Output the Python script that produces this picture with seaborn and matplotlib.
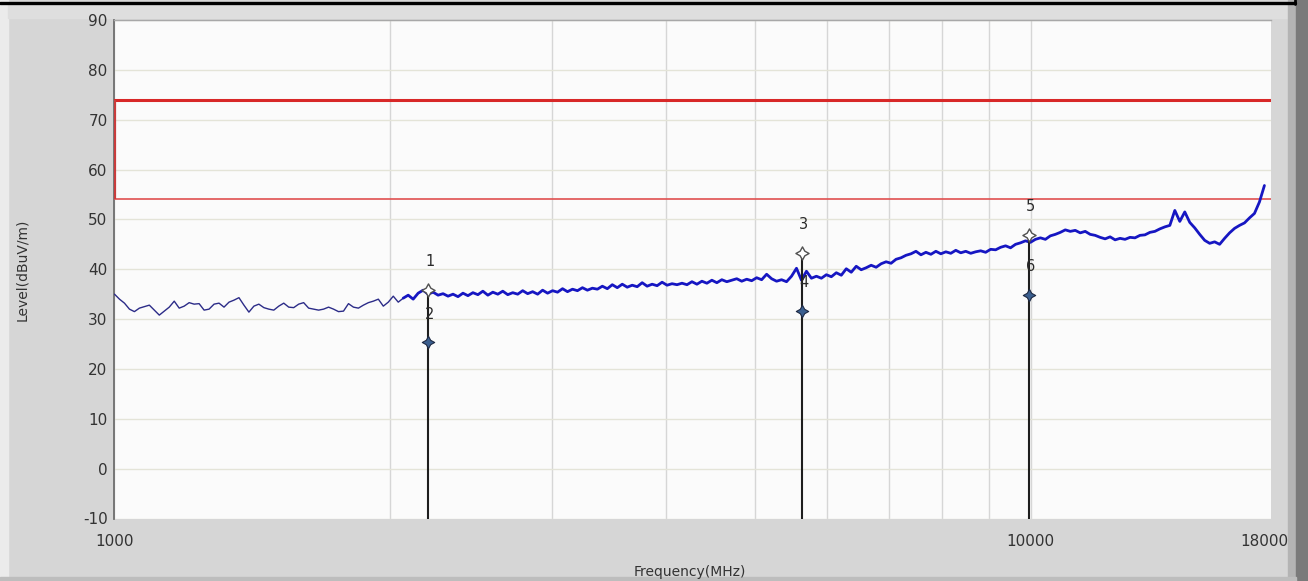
import numpy as np
import pandas as pd
import seaborn as sns
import matplotlib.pyplot as plt
from matplotlib.patches import Rectangle
from matplotlib.lines import Line2D

sns.set_theme(style="white")
plt.rcParams['font.family'] = ['DejaVu Sans']
plt.rcParams['axes.unicode_minus'] = False

# --- measured trace (dBuV/m), sweep 1000 -> 18000 MHz on a log grid ---
level_low = [
    35.0, 34.0, 33.2, 32.0, 31.5, 32.2, 32.5, 32.8, 31.8, 30.8,
    31.6, 32.4, 33.6, 32.2, 32.6, 33.3, 33.0, 33.1, 31.8, 32.0,
    33.0, 33.2, 32.4, 33.4, 33.8, 34.3, 32.8, 31.4, 32.6, 33.0,
    32.3, 32.0, 31.8, 32.6, 33.2, 32.4, 32.3, 33.0, 33.3, 32.2,
    32.0, 31.8, 32.0, 32.4, 32.0, 31.5, 31.6, 33.1, 32.4, 32.2,
    32.8, 33.3, 33.6, 34.0, 32.6, 33.4, 34.6, 33.4,
]
level_high = [
    34.2, 34.8, 34.0, 35.2, 35.8, 35.0, 35.4, 34.8, 35.1, 34.6,
    35.0, 34.5, 35.2, 34.7, 35.3, 34.9, 35.6, 34.8, 35.4, 35.0,
    35.6, 34.9, 35.3, 35.0, 35.7, 35.1, 35.5, 35.0, 35.8, 35.2,
    35.7, 35.4, 36.1, 35.5, 36.0, 35.7, 36.3, 35.8, 36.2, 36.0,
    36.6, 36.1, 36.9, 36.3, 37.0, 36.4, 36.8, 36.5, 37.3, 36.6,
    37.0, 36.7, 37.4, 36.8, 37.1, 36.9, 37.2, 36.9, 37.5, 37.0,
    37.6, 37.2, 37.8, 37.3, 37.9, 37.5, 37.8, 38.1, 37.6, 38.0,
    37.7, 38.3, 37.9, 39.0, 38.1, 37.6, 37.9, 37.5, 38.6, 40.2,
    37.8, 39.6, 38.2, 38.6, 38.2, 38.9, 38.5, 39.3, 38.8, 40.1,
    39.4, 40.6, 39.9, 40.3, 40.8, 40.4, 41.1, 41.5, 41.2, 42.0,
    42.3, 42.8, 43.1, 43.6, 42.9, 43.4, 43.0, 43.6, 43.1, 43.5,
    43.2, 43.8, 43.3, 43.6, 43.2, 43.5, 43.7, 43.4, 44.0, 43.9,
    44.4, 44.7, 44.3, 45.0, 45.3, 45.7, 45.4, 46.0, 46.3, 46.0,
    46.7, 47.0, 47.4, 47.9, 47.6, 47.8, 47.3, 47.6, 47.0, 46.8,
    46.4, 46.1, 46.5, 45.9, 46.2, 46.0, 46.4, 46.3, 46.8, 46.9,
    47.4, 47.6, 48.1, 48.5, 48.8, 51.8, 49.6, 51.5, 49.4, 48.3,
    47.0, 45.8, 45.2, 45.5, 45.0, 46.2, 47.3, 48.2, 48.8, 49.3,
    50.3, 51.2, 53.5, 56.8,
]
trace_level = level_low + level_high
trace_freq = np.geomspace(1000, 18000, len(trace_level))

# --- limit lines ---
limit_freq = [1000, 18300]
peak_limit = [74, 74]
avg_limit = [54, 54]

# --- markers ---
marker_id = ["1", "2", "3", "4", "5", "6"]
marker_freq = [2200, 2200, 5630, 5630, 9950, 9950]
marker_level = [35.9, 25.4, 43.3, 31.7, 46.9, 34.9]
marker_kind = ["PK", "AV", "PK", "AV", "PK", "AV"]

# --- axes ticks ---
x_range = (1000, 18300)
x_major = [1000, 10000, 18000]
x_major_labels = ["1000", "10000", "18000"]
x_minor = [2000, 3000, 4000, 5000, 6000, 7000, 8000, 9000]
y_ticks = list(range(-10, 91, 10))

W, H = 1308, 581
fig = plt.figure(figsize=(W / 100, H / 100), dpi=100)
fig.patch.set_facecolor("#d6d6d6")

# window frame decorations
fig.add_artist(Rectangle((0, 0), 8 / W, 1, transform=fig.transFigure,
                         color="#ebebeb", zorder=0))
fig.add_artist(Rectangle((8 / W, 1 - 18 / H), 1280 / W, 13 / H,
                         transform=fig.transFigure, color="#dedede", zorder=0))
fig.add_artist(Rectangle((1288 / W, 0), 8 / W, 1, transform=fig.transFigure,
                         color="#b4b4b4", zorder=0))
fig.add_artist(Rectangle((1296 / W, 0), 12 / W, 1, transform=fig.transFigure,
                         color="#7a7a7a", zorder=0))
fig.add_artist(Rectangle((0, 0), 1296 / W, 4 / H, transform=fig.transFigure,
                         color="#bdbdbd", zorder=0))
fig.add_artist(Line2D([0, 1295 / W], [1 - 3 / H, 1 - 3 / H],
                      transform=fig.transFigure, color="black", lw=2.4))
fig.add_artist(Line2D([1295 / W, 1295 / W], [1 - 4 / H, 1],
                      transform=fig.transFigure, color="black", lw=2.0))

left, right, top, bottom = 114.5, 1271, 20, 518.5
ax = fig.add_axes([left / W, 1 - bottom / H, (right - left) / W, (bottom - top) / H])
ax.set_facecolor("#fbfbfb")
ax.set_xscale("log")

df = pd.DataFrame({"freq": trace_freq, "level": trace_level})
n_low = len(level_low)
sns.lineplot(data=df.iloc[:n_low + 1], x="freq", y="level", ax=ax,
             color="#2c2c88", lw=1.0, sort=False, estimator=None, zorder=4)
sns.lineplot(data=df.iloc[n_low:], x="freq", y="level", ax=ax,
             color="#1616c2", lw=2.0, sort=False, estimator=None, zorder=4)

# limits
sns.lineplot(x=limit_freq, y=peak_limit, ax=ax, color="#d82828", lw=2.2,
             sort=False, estimator=None, zorder=3)
sns.lineplot(x=limit_freq, y=avg_limit, ax=ax, color="#e05050", lw=1.2,
             sort=False, estimator=None, zorder=3)
ax.vlines(limit_freq[0] * 1.002, avg_limit[0], peak_limit[0], color="#c83c3c",
          lw=1.6, zorder=3)

# marker stems, symbols and numbers
mk = pd.DataFrame({"id": marker_id, "freq": marker_freq,
                   "level": marker_level, "kind": marker_kind})
pk = mk[mk.kind == "PK"]
av = mk[mk.kind == "AV"]
ax.vlines(pk.freq, -10, pk.level, color="#1e1e1e", lw=1.5, zorder=5)
sns.scatterplot(data=pk, x="freq", y="level", ax=ax, marker=(4, 1, 0), s=90,
                facecolor="white", edgecolor="#505050", linewidth=1.0, zorder=6)
sns.scatterplot(data=av, x="freq", y="level", ax=ax, marker=(4, 1, 0), s=80,
                color="#3b5f8f", edgecolor="#1e2a44", linewidth=0.8, zorder=6)
for _, r in mk.iterrows():
    ax.text(r.freq * 1.004, r.level + 5.6, r.id, ha="center", va="center",
            fontsize=10.5, color="#2a2a2a", zorder=7)

ax.set_xlim(*x_range)
ax.set_ylim(-10, 90)
ax.set_yticks(y_ticks)
ax.set_xticks(x_major)
ax.set_xticklabels(x_major_labels)
ax.set_xticks(x_minor, minor=True)
ax.set_xticklabels([], minor=True)
ax.yaxis.grid(True, color="#e4e4d8", lw=1.0)
ax.xaxis.grid(True, which="both", color="#d6d6d6", lw=1.0)
# the last labelled frequency sits at the frame edge: no grid line there
ax.get_xgridlines()[-1].set_visible(False)
ax.set_axisbelow(True)
ax.tick_params(axis="both", which="both", length=0, labelsize=11,
               labelcolor="#333333")
ax.tick_params(axis="x", pad=11)
ax.tick_params(axis="y", pad=5)

for s in ("right", "bottom"):
    ax.spines[s].set_visible(False)
ax.spines["left"].set_color("#6e6e6e")
ax.spines["left"].set_linewidth(1.3)
ax.spines["top"].set_color("#a8a8a8")
ax.spines["top"].set_linewidth(1.0)

ax.set_xlabel("Frequency(MHz)", fontsize=10, color="#333333", va="center")
ax.set_ylabel("Level(dBuV/m)", fontsize=10, color="#333333", va="center")
ax.xaxis.set_label_coords((690 - left) / (right - left), -(572 - bottom) / (bottom - top))
ax.yaxis.set_label_coords(-(114.5 - 22) / (right - left), (bottom - 270) / (bottom - top))

fig.savefig("out.png", dpi=100, facecolor=fig.get_facecolor())
